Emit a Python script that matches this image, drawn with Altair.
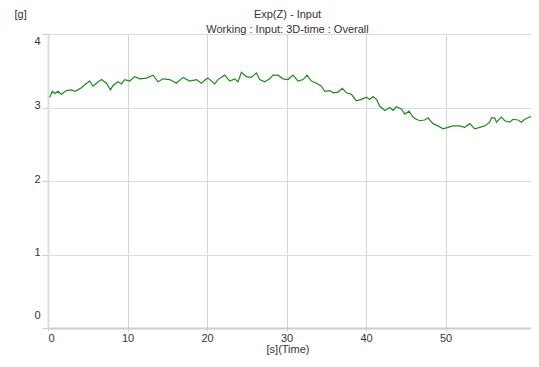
import altair as alt
import pandas as pd

# time [s] and Exp(Z) [g]
time_s = [0.21, 0.55, 0.84, 1.26, 1.69, 2.31, 2.94, 3.36, 3.77, 4.20, 4.62, 5.25, 5.66, 6.09,
          6.72, 7.35, 7.85, 8.18, 8.81, 9.23, 9.65, 10.28, 10.91, 11.53, 12.38, 13.21, 13.84,
          14.47, 15.31, 16.15, 16.98, 17.82, 18.67, 19.30, 19.92, 20.13, 20.97, 21.38, 22.23,
          22.86, 23.48, 23.90, 24.33, 24.96, 25.58, 26.21, 26.63, 27.26, 27.89, 28.30, 28.93,
          29.56, 30.19, 30.82, 31.45, 32.08, 32.58, 33.13, 33.76, 34.39, 34.81, 35.43, 35.85,
          36.48, 37.03, 37.53, 38.16, 38.79, 39.42, 40.05, 40.47, 40.88, 41.31, 41.72, 42.35,
          42.98, 43.40, 43.82, 44.45, 44.87, 45.41, 45.91, 46.34, 46.75, 47.38, 47.80, 48.43,
          49.06, 49.69, 50.31, 50.94, 51.79, 52.42, 53.04, 53.67, 54.30, 54.93, 55.56, 55.77,
          56.19, 56.40, 57.03, 57.45, 58.08, 58.49, 59.12, 59.54, 59.96, 60.59, 61.22, 61.72]
exp_z = [3.14, 3.22, 3.19, 3.22, 3.18, 3.23, 3.24, 3.22, 3.24, 3.27, 3.31, 3.36, 3.29, 3.33,
         3.38, 3.33, 3.24, 3.30, 3.35, 3.32, 3.38, 3.36, 3.42, 3.39, 3.40, 3.44, 3.35,
         3.39, 3.38, 3.33, 3.41, 3.36, 3.38, 3.33, 3.39, 3.40, 3.32, 3.38, 3.44,
         3.36, 3.39, 3.35, 3.48, 3.42, 3.41, 3.47, 3.38, 3.35, 3.39, 3.44, 3.44,
         3.39, 3.38, 3.44, 3.36, 3.38, 3.44, 3.36, 3.33, 3.29, 3.22, 3.23, 3.20,
         3.21, 3.26, 3.20, 3.18, 3.09, 3.11, 3.14, 3.11, 3.15, 3.11, 3.02, 2.96,
         3.00, 2.96, 3.01, 2.98, 2.91, 2.95, 2.87, 2.84, 2.82, 2.83, 2.86, 2.78,
         2.75, 2.71, 2.73, 2.75, 2.75, 2.73, 2.78, 2.71, 2.73, 2.75, 2.80, 2.86,
         2.86, 2.80, 2.87, 2.82, 2.80, 2.84, 2.83, 2.80, 2.84, 2.87, 2.90, 2.89]

x_ticks = [0, 10, 20, 30, 40, 50]
y_ticks = [0, 1, 2, 3, 4]

df = pd.DataFrame({"t": time_s, "v": exp_z})

FONT = "Liberation Sans"
TXT = "#333333"

line = alt.Chart(df).mark_line(color="#1f8a1f", strokeWidth=1.2, clip=True).encode(
    x=alt.X("t:Q",
            scale=alt.Scale(domain=[0, 60.75], nice=False, zero=False),
            axis=alt.Axis(values=x_ticks, title="[s](Time)", format="d",
                          grid=True, gridColor="#d4d4d4", gridWidth=1,
                          domainColor="#cccccc", domainWidth=2,
                          tickColor="#cccccc", tickSize=3,
                          labelPadding=1, labelFlush=True, labelFontSize=11,
                          labelFont=FONT, labelColor=TXT,
                          titleFont=FONT, titleFontSize=11, titleFontWeight="normal",
                          titleColor=TXT, titleX=239.5, titleY=21,
                          titleAlign="center", titleBaseline="middle")),
    y=alt.Y("v:Q",
            scale=alt.Scale(domain=[0, 4], nice=False),
            axis=alt.Axis(values=y_ticks, title="[g]", format="d",
                          grid=True, gridColor="#dddddd", gridWidth=1,
                          domainColor="#dddddd", domainWidth=2,
                          tickColor="#cccccc", tickSize=6,
                          labelPadding=2, labelFlush=False, labelFontSize=11,
                          labelFont=FONT, labelColor=TXT, labelBaseline="middle",
                          labelOffset={"condition": [
                              {"test": "datum.value == 0", "value": -13},
                              {"test": "datum.value == 4", "value": 7}],
                              "value": -2},
                          titleFont=FONT, titleFontSize=11, titleFontWeight="normal",
                          titleColor=TXT, titleAngle=0, titleX=-34, titleY=-25.5,
                          titleAlign="left", titleBaseline="top")),
)

chart = line.properties(
    width=483,
    height=294,
    title=alt.Title(text="Exp(Z) - Input",
                    subtitle="Working : Input: 3D-time : Overall",
                    anchor="middle", frame="group", dx=-2,
                    font=FONT, fontSize=11, fontWeight="normal", color=TXT,
                    subtitleFont=FONT, subtitleFontSize=11, subtitleColor=TXT,
                    offset=-26, subtitlePadding=4),
    padding={"left": 40, "top": 26, "right": 0, "bottom": 27},
    autosize="none",
).configure_view(stroke=None, fill="#f4f4f4").configure(background="white")

chart.save("out.html", embed_options={"renderer": "svg", "actions": False})
